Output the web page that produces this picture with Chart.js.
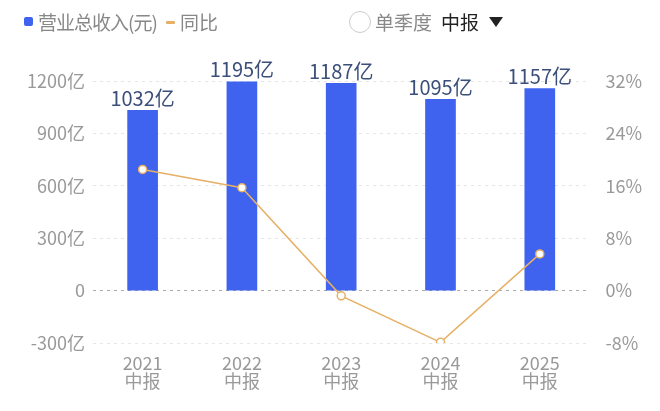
<!DOCTYPE html>
<html>
<head>
<meta charset="utf-8">
<script src="https://cdn.jsdelivr.net/npm/chart.js@4"></script>
<style>
  body { margin: 0; background: #fff; font-family: "Noto Sans CJK SC", sans-serif; }
  #wrap { position: relative; width: 660px; height: 411px; }
  #head { position: absolute; top: 8px; left: 0; width: 660px; height: 34px; font-size: 19px; color: #888; }
  #head span { position: absolute; top: 0; }
</style>
</head>
<body>
<div id="wrap">
  <div id="head">
    <span style="left:24px;top:9px;width:9px;height:9px;background:#3f63ee;border-radius:2px"></span>
    <span style="left:38px;letter-spacing:-1px">营业总收入(元)</span>
    <span style="left:166px;top:13px;width:9px;height:3px;background:#e6b066;border-radius:1px"></span>
    <span style="left:180px">同比</span>
    <span style="left:349px;top:3px;width:20px;height:20px;border:1px solid #ccc;border-radius:50%"></span>
    <span style="left:375px">单季度</span>
    <span style="left:441px;color:#222">中报</span>
    <span style="left:489px;top:9px;width:0;height:0;border-left:7px solid transparent;border-right:7px solid transparent;border-top:10px solid #222"></span>
  </div>
  <canvas id="c" width="660" height="411"></canvas>
</div>
<script>
const categories = [['2021', '中报'], ['2022', '中报'], ['2023', '中报'], ['2024', '中报'], ['2025', '中报']];
const revenue = [1032, 1195, 1187, 1095, 1157];
const yoy = [18.5, 15.7, -0.8, -7.9, 5.6];
const leftTicks = [-300, 0, 300, 600, 900, 1200];
const rightTicks = [-8, 0, 8, 16, 24, 32];

const barLabels = {
    id: 'barLabels',
    afterDatasetsDraw(chart) {
        const ctx = chart.ctx;
        const meta = chart.getDatasetMeta(0);
        ctx.save();
        ctx.fillStyle = '#3b4f7a';
        ctx.font = '20px "Noto Sans CJK SC"';
        ctx.textAlign = 'center';
        ctx.textBaseline = 'bottom';
        meta.data.forEach((bar, i) => {
            ctx.fillText(revenue[i] + '亿', bar.x, bar.y - 2);
        });
        ctx.restore();
    }
};

const gridColor = (c) => c.tick.value === 0 ? '#aaa' : '#e6e6e6';

new Chart(document.getElementById('c'), {
    data: {
        labels: categories,
        datasets: [
            {
                type: 'bar',
                data: revenue,
                yAxisID: 'y',
                backgroundColor: '#3f63ee',
                barThickness: 30,
                order: 2
            },
            {
                type: 'line',
                data: yoy,
                yAxisID: 'y1',
                borderColor: '#e6b066',
                borderWidth: 1.5,
                pointRadius: 4,
                pointBackgroundColor: '#fff',
                pointBorderColor: '#e6b066',
                pointBorderWidth: 1.5,
                order: 1
            }
        ]
    },
    options: {
        responsive: false,
        animation: false,
        layout: { padding: { top: 81, left: 19, right: 10, bottom: 18 } },
        plugins: { legend: { display: false }, tooltip: { enabled: false } },
        scales: {
            x: {
                grid: { display: false },
                border: { display: false },
                ticks: { color: '#999', font: { size: 18, family: 'Noto Sans CJK SC', lineHeight: 1.0 } }
            },
            y: {
                min: -300, max: 1200,
                afterBuildTicks: (a) => { a.ticks = leftTicks.map(v => ({ value: v })); },
                border: { display: false, dash: [3, 4] },
                grid: { color: gridColor, drawTicks: false },
                ticks: {
                    padding: 8, color: '#999', font: { size: 18, family: 'Noto Sans CJK SC' },
                    callback: (v) => v === 0 ? '0' : v + '亿'
                }
            },
            y1: {
                position: 'right',
                min: -8, max: 32,
                afterBuildTicks: (a) => { a.ticks = rightTicks.map(v => ({ value: v })); },
                border: { display: false },
                grid: { display: false },
                ticks: {
                    padding: 8, color: '#999', font: { size: 18, family: 'Noto Sans CJK SC' },
                    callback: (v) => v + '%'
                }
            }
        }
    },
    plugins: [barLabels]
});
</script>
</body>
</html>
